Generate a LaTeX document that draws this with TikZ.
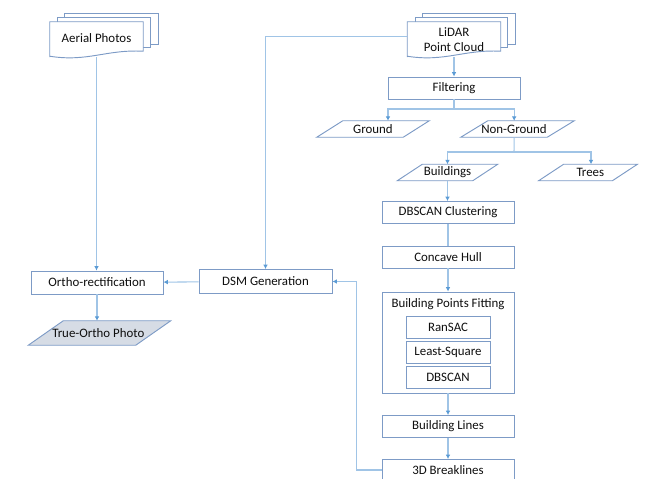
\documentclass[tikz,border=0pt]{standalone}
\usepackage{fontspec}
\setmainfont{Carlito}
\usetikzlibrary{positioning,arrows.meta,calc,backgrounds}
\definecolor{BoxBlue}{RGB}{125,155,198}
\definecolor{LineBlue}{RGB}{160,196,230}
\definecolor{TipBlue}{RGB}{91,155,213}
\definecolor{PhotoFill}{RGB}{214,220,229}
\definecolor{TextGray}{RGB}{15,15,15}

% paper stack behind a data source node
\newcommand{\docstack}[1]{%
  \begin{pgfonlayer}{background}
    \draw[docline] ([shift={(15,-8)}]#1.north west) rectangle ([shift={(15,-13)}]#1.south east);
    \draw[docline] ([shift={(8,-4)}]#1.north west) rectangle ([shift={(7,-10)}]#1.south east);
    \draw[docline] (#1.south west) -- (#1.north west) -- (#1.north east)
      -- ([shift={(0,-6)}]#1.south east)
      .. controls ([shift={(-37,-8)}]#1.south east) and ([shift={(38,5)}]#1.south west) ..
      ([shift={(0,-1)}]#1.south west) -- cycle;
  \end{pgfonlayer}}

% slanted data shape round a node
\newcommand{\slantbox}[3][white]{%
  \begin{pgfonlayer}{background}
    \draw[docline, fill=#1] ([xshift=-#3/2]#2.south west) -- ([xshift=-#3/2]#2.south east)
      -- ([xshift=#3/2]#2.north east) -- ([xshift=#3/2]#2.north west) -- cycle;
  \end{pgfonlayer}}

\begin{document}
\begin{tikzpicture}[
    x=0.03cm, y=-0.03cm,
    every node/.style={font=\fontsize{11}{13}\selectfont, text=TextGray},
    box/.style={rectangle, draw=BoxBlue, line width=0.8pt, fill=white,
                minimum width=3.96cm, minimum height=0.66cm, inner sep=0pt},
    subbox/.style={box, minimum width=2.52cm},
    doc/.style={minimum width=2.79cm, minimum height=1.05cm, inner sep=0pt, align=center},
    data/.style={minimum height=0.48cm, inner sep=0pt},
    docline/.style={draw=BoxBlue, line width=0.8pt, fill=white},
    line/.style={draw=LineBlue, line width=0.9pt},
    arrow/.style={line, -{Latex[length=1.3mm, width=1.4mm, color=TipBlue]}}
]
    \useasboundingbox (0,0) rectangle (651,478);
    \clip (0,0) rectangle (651,478);

    % sources
    \node[doc] (aerial) at (96.5,39.5) {\raisebox{3pt}{Aerial Photos}};
    \node[doc] (lidar)  at (454,39.5)  {LiDAR\\Point Cloud};
    \docstack{aerial}
    \docstack{lidar}

    % LiDAR chain
    \node[box] (filter) at (454,88) {Filtering};
    \node[data, minimum width=2.58cm] (ground)    at (373,129)   {Ground};
    \node[data, minimum width=2.58cm] (nonground) at (517.5,129) {\hspace*{-6pt}Non-Ground};
    \node[data, minimum width=2.25cm] (buildings) at (447.5,172.5) {Buildings};
    \node[data, minimum width=2.2cm]  (trees)     at (588,172.5) {\hspace*{4pt}Trees};
    \slantbox{ground}{0.78cm}
    \slantbox{nonground}{0.81cm}
    \slantbox{buildings}{0.75cm}
    \slantbox{trees}{0.75cm}

    \node[box] (dbscan)  at (448,212.5) {DBSCAN Clustering};
    \node[box] (concave) at (448,257)   {Concave Hull};
    \node[box, minimum height=3.03cm] (fitting) at (448,342.5) {};
    \node (fittitle) at (448,304) {Building Points Fitting};
    \node[subbox] (ransac) at (448,327) {RanSAC};
    \node[subbox] (lsq)    at (448,352) {Least-Square};
    \node[subbox] (dbs)    at (448,377) {DBSCAN};
    \node[box] (lines)  at (448,426.5) {Building Lines};
    \node[box, minimum height=0.63cm] (breaks) at (448,470) {3D Breaklines};

    % products
    \node[box, minimum height=0.72cm, minimum width=3.99cm] (dsm) at (265.5,281.5) {DSM Generation};
    \node[box, minimum height=0.69cm] (ortho) at (97,282.5) {Ortho-rectification};
    \node[data, minimum height=0.72cm, minimum width=3.21cm] (trueortho) at (99.5,333) {\hspace*{-2pt}True-Ortho Photo};
    \slantbox[PhotoFill]{trueortho}{1.05cm}

    \coordinate (fsplit) at (454,109);
    \coordinate (nsplit) at (514,152);

    \draw[arrow] (aerial.south) -- (aerial.south |- ortho.north);
    \draw[arrow] ([yshift=0.1cm]lidar.west) -| (dsm.north);
    \draw[arrow] (lidar.south) -- (filter.north);
    \draw[line]  (filter.south) -- (fsplit);
    \draw[arrow] (fsplit) -| ([xshift=0.45cm]ground.north);
    \draw[arrow] (fsplit) -| ([xshift=-0.1cm]nonground.north);
    \draw[line]  ([xshift=-0.1cm]nonground.south) -- (nsplit);
    \draw[arrow] (nsplit) -| (buildings.north);
    \draw[arrow] (nsplit) -| ([xshift=0.09cm]trees.north);
    \draw[arrow] (buildings.south) -- (buildings.south |- dbscan.north);
    \draw[line]  (dbscan) -- (concave);
    \draw[arrow] (concave) -- (fitting);
    \draw[arrow] (fitting) -- (lines);
    \draw[arrow] (lines) -- (breaks);
    \draw[arrow] (breaks.west) -- ++(-25,0) |- (dsm.east);
    \draw[arrow] (dsm) -- (ortho);
    \draw[arrow] (ortho.south) -- (ortho.south |- trueortho.north);
\end{tikzpicture}
\end{document}
